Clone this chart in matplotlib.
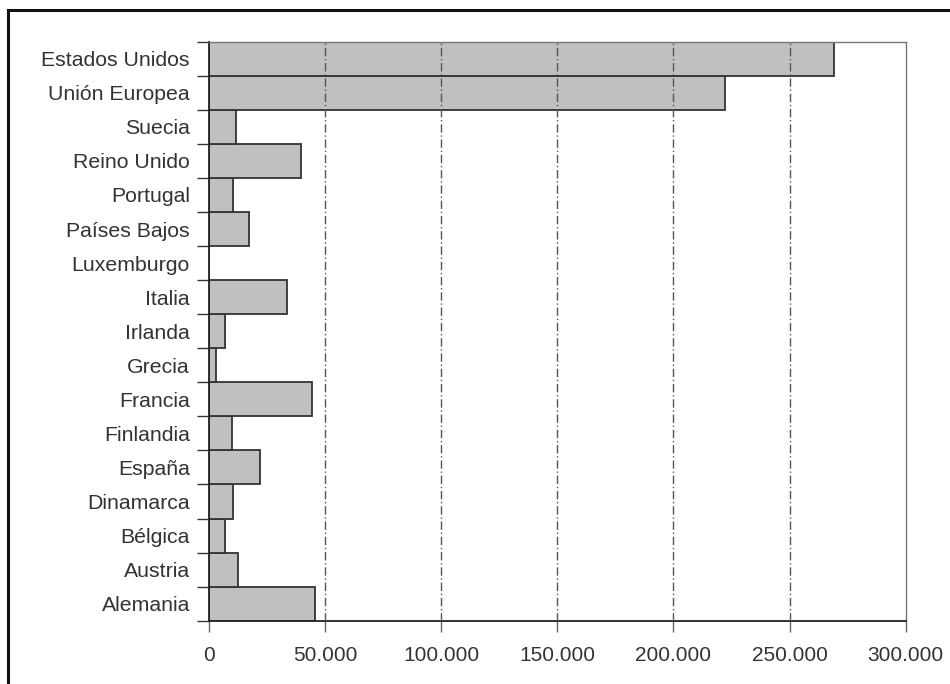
import matplotlib.pyplot as plt
from matplotlib.ticker import FuncFormatter, FixedLocator
from matplotlib.lines import Line2D

# Data (bottom to top as drawn)
countries = ['Alemania', 'Austria', 'Bélgica', 'Dinamarca', 'España', 'Finlandia',
             'Francia', 'Grecia', 'Irlanda', 'Italia', 'Luxemburgo', 'Países Bajos',
             'Portugal', 'Reino Unido', 'Suecia', 'Unión Europea', 'Estados Unidos']
values = [45900, 12700, 6900, 10600, 22200, 9900,
          44300, 3300, 7150, 33800, 0, 17300,
          10300, 39700, 11900, 222200, 269200]
x_ticks = [0, 50000, 100000, 150000, 200000, 250000, 300000]

plt.rcParams['font.family'] = ['Liberation Sans', 'DejaVu Sans']

fig = plt.figure(figsize=(9.5, 6.84), dpi=100)
ax = fig.add_axes([0.2197, 0.0925, 0.7337, 0.8465])

pos = list(range(len(countries)))
ax.barh(pos, values, height=1.0, color='#c0c0c0', edgecolor='#333333',
        linewidth=1.3, zorder=2)

ax.set_xlim(0, 300000)
ax.set_ylim(-0.5, len(countries) - 0.5)

# dash-dot gridlines, drawn over the bars like the original
for xv in x_ticks[1:-1]:
    ax.axvline(xv, color='#555555', lw=1.0, ls=(0, (6, 2, 1, 2)), zorder=3)

ax.xaxis.set_major_locator(FixedLocator(x_ticks))
ax.xaxis.set_major_formatter(FuncFormatter(lambda v, p: f'{int(v):,}'.replace(',', '.')))
ax.tick_params(axis='x', direction='out', length=8, width=1, color='#666666',
               labelsize=15, labelcolor='#333333', pad=10)

# ticks at category boundaries, labels centred
ax.yaxis.set_major_locator(FixedLocator([p - 0.5 for p in pos] + [len(pos) - 0.5]))
ax.yaxis.set_major_formatter(FuncFormatter(lambda v, p: ''))
ax.yaxis.set_minor_locator(FixedLocator(pos))
ax.set_yticklabels(countries, minor=True)
ax.tick_params(axis='y', which='major', direction='out', length=8.5, width=1, color='#333333')
ax.tick_params(axis='y', which='minor', length=0, pad=13.5, labelsize=15.3, labelcolor='#333333')

for s in ['left', 'bottom']:
    ax.spines[s].set_color('#222222')
    ax.spines[s].set_linewidth(1.3)
for s in ['top', 'right']:
    ax.spines[s].set_color('#777777')
    ax.spines[s].set_linewidth(1.0)

# outer frame (left and top edges)
fig.add_artist(Line2D([7.5 / 950, 7.5 / 950], [0, 1 - 10 / 684], color='#111111', lw=2.2,
                      transform=fig.transFigure))
fig.add_artist(Line2D([7.5 / 950, 1], [1 - 10 / 684, 1 - 10 / 684], color='#111111', lw=2.2,
                      transform=fig.transFigure))

fig.savefig('out.png', dpi=100)
